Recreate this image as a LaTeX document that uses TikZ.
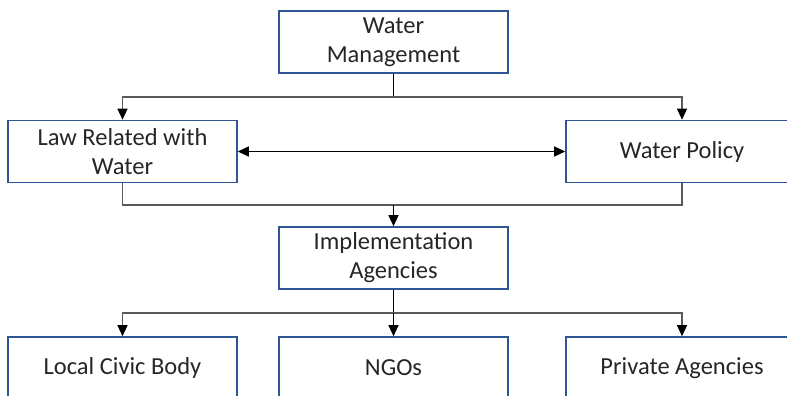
\documentclass[tikz,border=0pt]{standalone}
\usepackage{fontspec}
\setmainfont{Carlito}
\usetikzlibrary{arrows.meta,calc}
\definecolor{boxblue}{RGB}{47,85,151}
\definecolor{conngray}{RGB}{89,89,89}
\begin{document}
\begin{tikzpicture}[x=1pt,y=-1pt,
  box/.style={draw=boxblue,line width=1.6pt,fill=white,align=center,
    minimum width=229pt,minimum height=62pt,inner sep=0pt,
    font=\fontsize{24.5}{29}\selectfont,text=black!85},
  conn/.style={draw=conngray,line width=1.2pt},
  tip/.style={-{Triangle[width=10pt,length=11pt,color=black]}},
]
\useasboundingbox (0,0) rectangle (787,396);
\clip (0,0) rectangle (787,396);
\node[box] (wm) at (393.5,42) {Water\\Management};
\node[box] (law) at (122.5,151.5) {Law Related with\\Water};
\node[box,minimum width=232pt] (pol) at (682,151.5) {Water Policy};
\node[box] (imp) at (393.5,258) {Implementation\\Agencies};
\node[box] (loc) at (122.5,368) {Local Civic Body};
\node[box] (ngo) at (393.5,368) {NGOs};
\node[box,minimum width=232pt] (pri) at (682,368) {Private Agencies};
% top split
\coordinate (j1) at (393.5,97);
\draw[line width=1.2pt,black] (wm.south) -- (j1);
\draw[conn,tip] (j1) -| (law.north);
\draw[conn,tip] (j1) -| (pol.north);
% merge
\coordinate (j2) at (393.5,205);
\draw[conn] (law.south) |- (j2);
\draw[conn] (pol.south) |- (j2);
\draw[conn,black,tip] (j2) -- (imp.north);
% double arrow
\draw[line width=1.4pt,black,{Triangle[width=10pt,length=11pt]}-{Triangle[width=10pt,length=11pt]}] (law.east) -- (pol.west);
% bottom split
\coordinate (j3) at (393.5,313);
\draw[line width=1.4pt,black] (imp.south) -- (j3);
\draw[conn,tip] (j3) -| (loc.north);
\draw[conn,tip] (j3) -| (pri.north);
\draw[line width=1.2pt,black,tip] (j3) -- (ngo.north);
\end{tikzpicture}
\end{document}
